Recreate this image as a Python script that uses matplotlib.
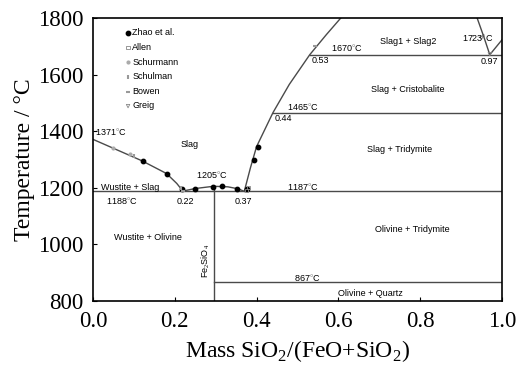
import numpy as np
import matplotlib
matplotlib.use('Agg')
import matplotlib.pyplot as plt

plt.rcParams['font.family'] = 'Liberation Serif'
plt.rcParams['mathtext.fontset'] = 'custom'
plt.rcParams['mathtext.rm'] = 'Liberation Serif'

# Phase boundaries (mass fraction SiO2, temperature in degC)
left_liq_x = [0.0, 0.06, 0.12, 0.18, 0.205, 0.22]
left_liq_T = [1371, 1333, 1295, 1250, 1215, 1188]

hump_x = [0.22, 0.25, 0.295, 0.33, 0.355, 0.37]
hump_T = [1188, 1197, 1205, 1203, 1196, 1187]

right_liq_x = [0.37, 0.385, 0.40, 0.44, 0.48, 0.53, 0.57, 0.606]
right_liq_T = [1187, 1270, 1345, 1465, 1565, 1670, 1740, 1800]

gap_x = [0.939, 0.955, 0.97]
gap_T = [1800, 1735, 1670]

crist_x = [0.97, 1.0]
crist_T = [1670, 1723]

# Isotherms: (temperature, x start, x end)
isotherms = [(1187, 0.0, 1.0), (1465, 0.44, 1.0), (1670, 0.53, 1.0), (867, 0.295, 1.0)]
fayalite_x = 0.295
fayalite_T = [800, 1205]

# Measured points
zhao_x = [0.122, 0.181, 0.218, 0.249, 0.293, 0.315, 0.352, 0.376, 0.394, 0.403]
zhao_T = [1295, 1249, 1196, 1197, 1204, 1205, 1196, 1195, 1298, 1344]
allen_x = [0.375, 0.38]
allen_T = [1190, 1200]
schurmann_x = [0.05, 0.09]
schurmann_T = [1340, 1318]
schulman_x = [0.10, 0.215]
schulman_T = [1312, 1200]
bowen_x = [0.22, 0.543]
bowen_T = [1190, 1700]
greig_x = [0.95, 0.97]
greig_T = [1730, 1672]

fig = plt.figure(figsize=(5.16, 3.66), dpi=100)
ax = fig.add_axes([0.18, 0.178, 0.793, 0.773])

lc = '#4a4a4a'
ax.plot(left_liq_x, left_liq_T, color=lc, lw=1)
ax.plot(hump_x, hump_T, color=lc, lw=1)
ax.plot(right_liq_x, right_liq_T, color=lc, lw=1)
ax.plot(gap_x, gap_T, color=lc, lw=1)
ax.plot(crist_x, crist_T, color=lc, lw=1)
for T, x0, x1 in isotherms:
    ax.plot([x0, x1], [T, T], color=lc, lw=1)
ax.plot([fayalite_x, fayalite_x], fayalite_T, color=lc, lw=1)

ax.scatter(zhao_x, zhao_T, s=10, color='black', zorder=3, label='Zhao et al.')
ax.scatter(allen_x, allen_T, s=6, marker='s', facecolors='none', edgecolors='#888888', lw=0.6, zorder=3, label='Allen')
ax.scatter(schurmann_x, schurmann_T, s=4, marker='o', color='#aaaaaa', zorder=3, label='Schurmann')
ax.scatter(schulman_x, schulman_T, s=6, marker='|', color='#999999', zorder=3, label='Schulman')
ax.scatter(bowen_x, bowen_T, s=6, marker='_', color='#999999', zorder=3, label='Bowen')
ax.scatter(greig_x, greig_T, s=6, marker='v', facecolors='none', edgecolors='#888888', lw=0.6, zorder=3, label='Greig')

ax.legend(loc='upper left', bbox_to_anchor=(0.065, 0.985), frameon=False,
          prop={'family': 'Liberation Sans', 'size': 6.5}, handlelength=0.5,
          handletextpad=0.2, labelspacing=0.62, borderpad=0.2)

sans = dict(family='Liberation Sans', fontsize=6.5, ha='center', va='center')
labels = [
    ('Slag', 0.237, 1351), ('Wustite + Slag', 0.09, 1199), ('1188$^{\\circ}$C', 0.071, 1150),
    ('0.22', 0.225, 1150), ('1205$^{\\circ}$C', 0.29, 1242), ('0.37', 0.369, 1150),
    ('1187$^{\\circ}$C', 0.513, 1199), ('Wustite + Olivine', 0.135, 1023),
    ('867$^{\\circ}$C', 0.523, 878), ('Olivine + Quartz', 0.677, 825),
    ('Olivine + Tridymite', 0.78, 1051), ('Slag + Tridymite', 0.75, 1334),
    ('Slag + Cristobalite', 0.77, 1546), ('1465$^{\\circ}$C', 0.514, 1482),
    ('0.44', 0.465, 1443), ('Slag1 + Slag2', 0.77, 1715), ('1670$^{\\circ}$C', 0.62, 1690),
    ('0.53', 0.555, 1648), ('1723$^{\\circ}$C', 0.94, 1725), ('0.97', 0.97, 1645),
]
for s, x, T in labels:
    ax.text(x, T, s, **sans)
ax.text(0.005, 1394, '1371$^{\\circ}$C', family='Liberation Sans', fontsize=6.5, ha='left', va='center')
ax.text(0.276, 941, 'Fe$_2$SiO$_4$', family='Liberation Sans', fontsize=6.5,
        rotation=90, ha='center', va='center')

ax.set_xlim(0, 1)
ax.set_ylim(800, 1800)
ax.set_xticks([0, 0.2, 0.4, 0.6, 0.8, 1.0])
ax.set_xticklabels(['0.0', '0.2', '0.4', '0.6', '0.8', '1.0'])
ax.set_yticks([800, 1000, 1200, 1400, 1600, 1800])
ax.tick_params(direction='in', length=3, width=0.8, labelsize=16.5)
ax.tick_params(axis='x', pad=7)
ax.tick_params(axis='y', pad=7)
for sp in ax.spines.values():
    sp.set_linewidth(1.2)

ax.set_xlabel('Mass SiO$_2$/(FeO+SiO$_2$)', fontsize=17, labelpad=5)
ax.set_ylabel('Temperature / °C', fontsize=17, labelpad=2)

fig.savefig('out.png', dpi=100)
